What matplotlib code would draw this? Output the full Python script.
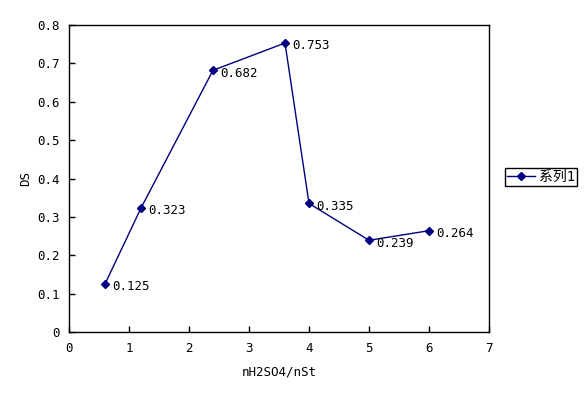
import matplotlib.pyplot as plt

# data
ratio = [0.6, 1.2, 2.4, 3.6, 4.0, 5.0, 6.0]
ds = [0.125, 0.323, 0.682, 0.753, 0.335, 0.239, 0.264]
xTicks = [0, 1, 2, 3, 4, 5, 6, 7]
yTicks = [0, 0.1, 0.2, 0.3, 0.4, 0.5, 0.6, 0.7, 0.8]
yTickLabels = ['0', '0.1', '0.2', '0.3', '0.4', '0.5', '0.6', '0.7', '0.8']

plt.rcParams['font.family'] = ['DejaVu Sans Mono', 'Noto Sans CJK SC']
plt.rcParams['font.size'] = 9

navy = '#000080'

fig = plt.figure(figsize=(5.87, 3.97), dpi=100)
ax = fig.add_axes([69 / 587, 1 - 332 / 397, 420 / 587, 307 / 397])

ax.plot(ratio, ds, color=navy, linewidth=1, marker='D', markersize=4,
        label='系列1')

for x, y in zip(ratio, ds):
    ax.annotate('%.3f' % y, (x, y), xytext=(5, -2), textcoords='offset points',
                ha='left', va='center', fontsize=9, color='black')

ax.set_xlim(0, 7)
ax.set_ylim(0, 0.8)
ax.set_xticks(xTicks)
ax.set_yticks(yTicks)
ax.set_yticklabels(yTickLabels)
ax.tick_params(direction='in', length=4, width=1, colors='black', pad=7)
for s in ax.spines.values():
    s.set_linewidth(1)
    s.set_color('black')

ax.set_xlabel('nH2SO4/nSt', labelpad=8)
ax.set_ylabel('DS')
ax.yaxis.set_label_coords(-0.088, 0.5)

leg = ax.legend(loc='upper left', bbox_to_anchor=(505 / 587, 1 - 168 / 397),
                bbox_transform=fig.transFigure, fancybox=False,
                edgecolor='black', framealpha=1, borderpad=0.15,
                borderaxespad=0, handlelength=2.0, handletextpad=0.3,
                fontsize=10)
leg.get_frame().set_linewidth(1)

fig.savefig('out.png', dpi=100)
